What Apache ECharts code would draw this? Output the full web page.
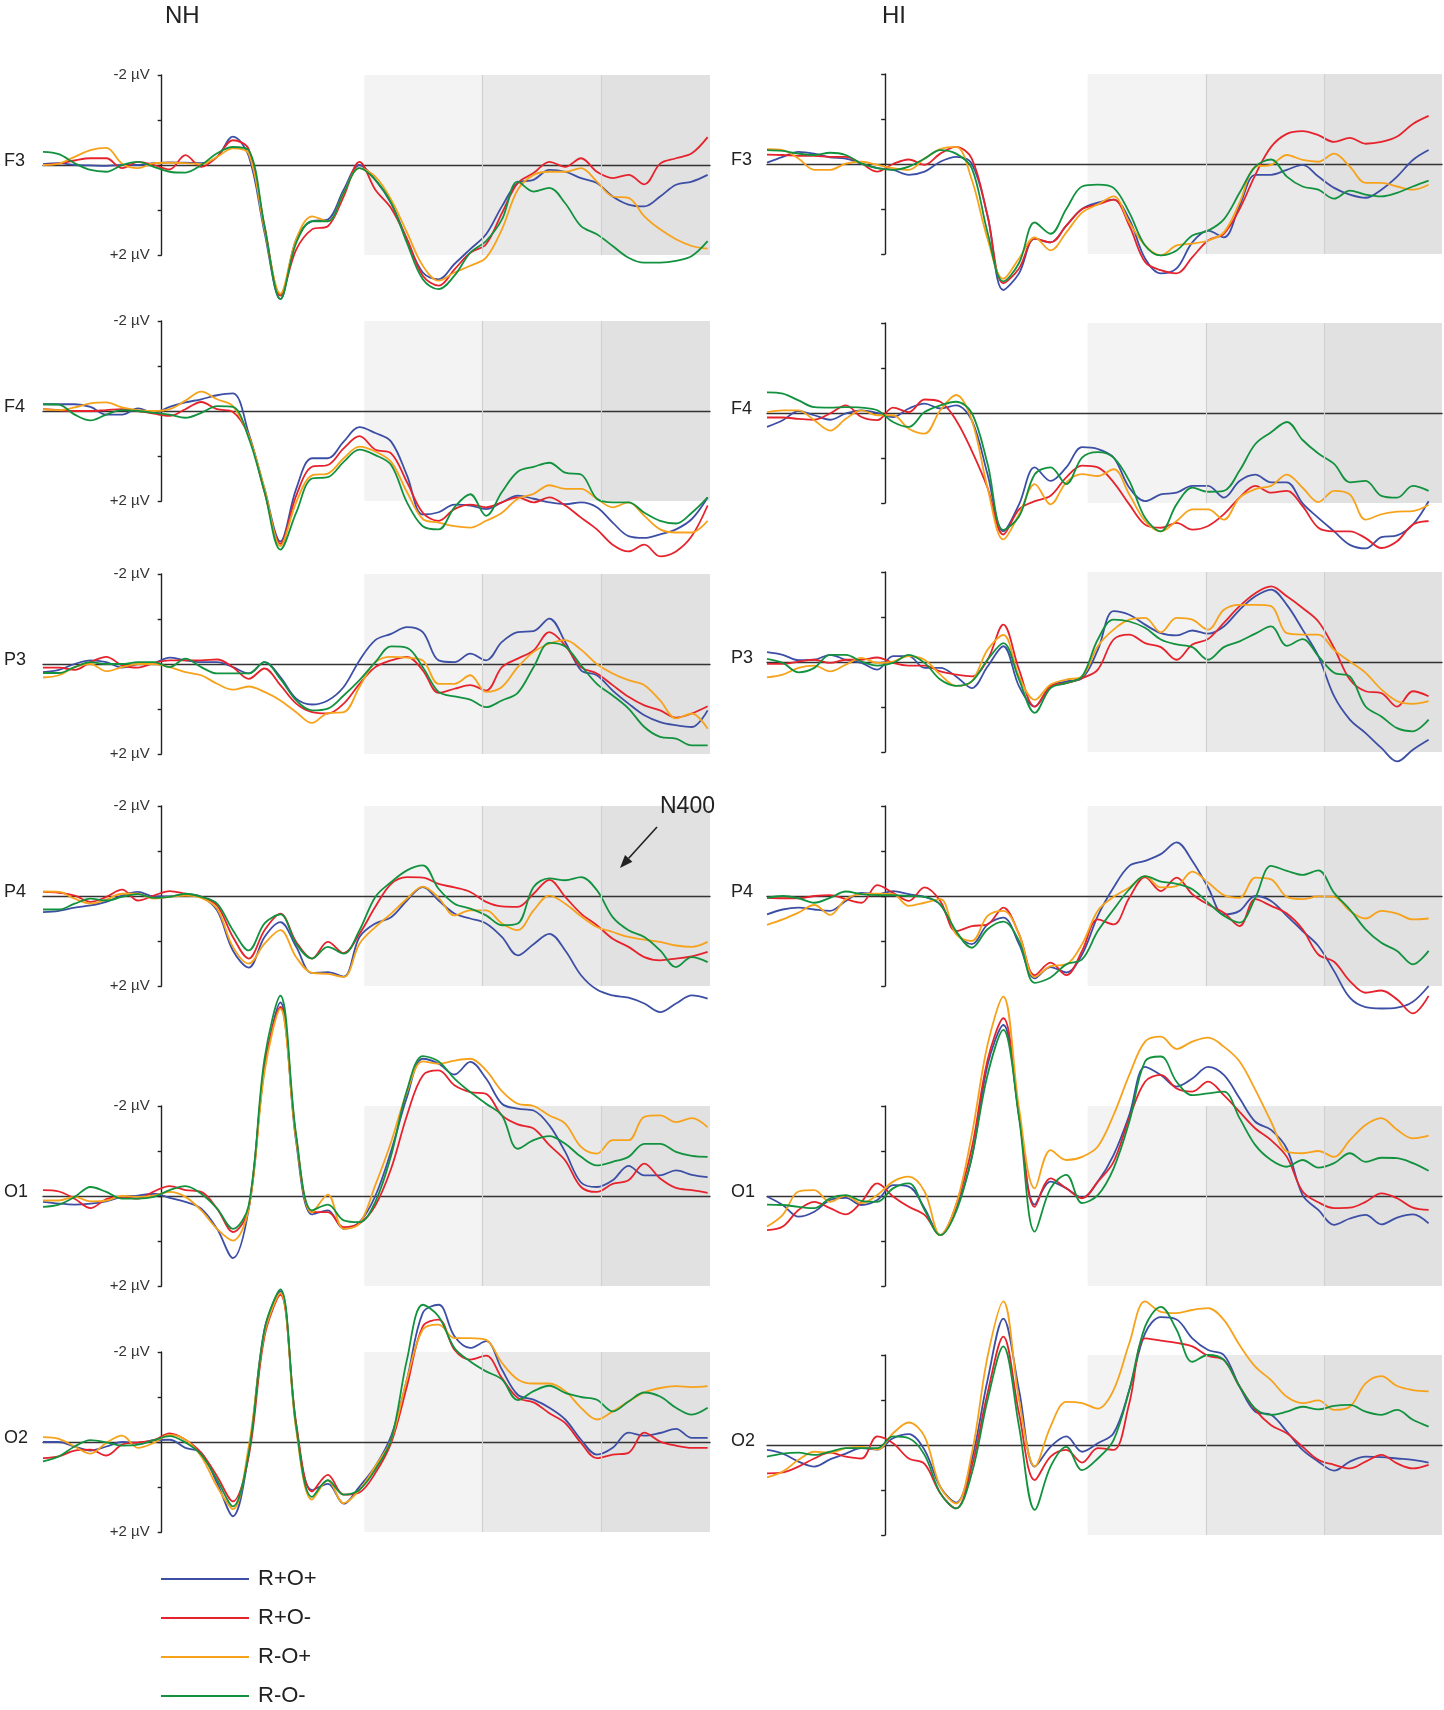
<!DOCTYPE html>
<html>
<head>
<meta charset="utf-8">
<title>ERP NH / HI</title>
<script src="https://cdn.jsdelivr.net/npm/echarts@6/dist/echarts.min.js"></script>
<style>
html, body { margin: 0; padding: 0; background: #fff; }
#chart { width: 1444px; height: 1710px; }
</style>
</head>
<body>
<div id="chart"></div>
<script>
// sample times in ms (every 20 ms)
var times = [-150,-130,-110,-90,-70,-50,-30,-10,10,30,50,70,90,110,130,150,170,190,210,230,250,270,290,310,330,350,370,390,410,430,450,470,490,510,530,550,570,590,610,630,650,670,690];

var conditions = ['R+O+', 'R+O-', 'R-O+', 'R-O-'];
var condColors = ['#3d4fa5', '#e6232c', '#f7a21b', '#12923e'];

// analysis windows (ms)
var windowsNH = [256, 405, 556, 693];
var windowsHI = [257, 408, 557, 707];

// amplitudes in µV (positive plotted downwards)
// NH
var nh_f3_RpOp = [-0.02,-0.04,0,0.01,0.02,0,0,-0.04,-0.06,-0.05,-0.04,-0.18,-0.63,-0.2,1.5,2.98,1.65,1.25,1.21,0.55,0,0.33,0.85,1.65,2.39,2.54,2.2,1.87,1.54,0.92,0.4,0.33,0.11,0.15,0.29,0.4,0.7,0.88,0.92,0.7,0.44,0.37,0.22];
var nh_f3_RpOm = [0,-0.03,-0.1,-0.15,-0.15,0.07,-0.07,0,0.1,-0.22,0.04,-0.18,-0.55,-0.35,1.36,2.9,1.88,1.43,1.36,0.7,-0.07,0.55,0.96,1.65,2.46,2.68,2.32,1.95,1.76,1.07,0.4,0.18,-0.07,0.04,-0.15,0.15,0.29,0.22,0.43,-0.03,-0.15,-0.26,-0.62];
var nh_f3_RmOp = [0,-0.03,-0.18,-0.33,-0.38,-0.03,0.07,-0.04,-0.05,-0.04,-0.02,-0.18,-0.37,-0.25,1.43,2.86,1.65,1.14,1.25,0.62,0.07,0.26,0.77,1.5,2.24,2.57,2.39,2.24,2.06,1.43,0.55,0.22,0.15,0.15,0.07,0.37,0.7,0.73,1.14,1.43,1.65,1.8,1.86];
var nh_f3_RmOm = [-0.29,-0.24,-0.04,0.11,0.15,0,-0.07,0.04,0.15,0.17,0,-0.26,-0.4,-0.33,1.36,2.98,1.73,1.25,1.25,0.62,0.07,0.33,0.84,1.73,2.54,2.76,2.46,1.95,1.69,1.21,0.37,0.59,0.51,0.85,1.36,1.54,1.8,2.06,2.17,2.17,2.13,2.02,1.69];

var nh_f4_RpOp = [-0.15,-0.15,-0.15,-0.09,0.08,0.08,-0.06,0.04,-0.09,-0.19,-0.26,-0.35,-0.39,0.5,1.73,2.9,1.73,1.05,1.05,0.68,0.36,0.49,0.68,1.43,2.3,2.25,2.08,2.1,2.18,2.03,1.88,1.95,2.03,2.07,2.03,2.14,2.48,2.78,2.82,2.74,2.63,2.4,1.92];
var nh_f4_RpOm = [-0.04,-0.02,0,0,-0.02,-0.04,0,0.06,0.11,-0.04,-0.2,-0.04,0.02,0.55,1.8,2.95,1.88,1.24,1.2,0.83,0.56,0.86,0.94,1.58,2.26,2.44,2.18,2.08,2.14,2.03,1.92,2.03,1.92,2.1,2.37,2.63,2.97,3.12,2.97,3.23,3.12,2.78,2.1];
var nh_f4_RmOp = [-0.04,-0.02,-0.08,-0.17,-0.19,-0.08,-0.02,0,-0.04,-0.23,-0.43,-0.26,-0.11,0.55,1.73,3.0,2.03,1.43,1.39,1.05,0.79,0.9,1.13,1.8,2.4,2.48,2.56,2.59,2.44,2.26,1.95,1.84,1.65,1.73,1.73,1.95,2.14,2.03,2.33,2.63,2.7,2.7,2.44];
var nh_f4_RmOm = [-0.15,-0.14,0.08,0.21,0.08,-0.02,0,0.04,0.08,0.15,0.04,-0.11,-0.09,0.6,1.8,3.08,2.26,1.5,1.47,1.13,0.86,0.98,1.2,2.03,2.56,2.63,2.14,1.85,2.33,1.8,1.35,1.24,1.15,1.37,1.41,1.95,2.03,2.03,2.26,2.44,2.5,2.26,1.92];

var nh_p3_RpOp = [0.18,0.13,0,-0.08,-0.04,0.08,0,-0.02,-0.14,-0.08,-0.04,-0.04,0.07,0.21,-0.04,0.29,0.77,0.9,0.81,0.51,-0.08,-0.53,-0.67,-0.82,-0.71,-0.08,-0.04,-0.23,-0.08,-0.49,-0.71,-0.73,-1.01,-0.49,0.14,0.25,0.59,0.88,1.14,1.29,1.36,1.4,1.03];
var nh_p3_RpOm = [0.08,0.08,0.13,-0.04,-0.16,0.03,0.08,-0.02,-0.08,-0.08,-0.08,-0.1,0.07,0.33,0.1,0.47,0.88,1.07,1.1,0.88,0.44,0.07,-0.08,-0.16,0.14,0.64,0.55,0.47,0.59,0.07,-0.12,-0.3,-0.71,-0.41,0.07,0.21,0.47,0.73,0.92,1.03,1.19,1.1,0.94];
var nh_p3_RmOp = [0.3,0.25,0.07,0,0.16,0.07,0,0,0.07,0.18,0.25,0.44,0.57,0.5,0.62,0.81,1.07,1.31,1.09,1.07,0.51,-0.04,-0.16,-0.14,-0.08,0.44,0.44,0.25,0.62,0.51,0.07,-0.27,-0.45,-0.53,-0.32,0,0.21,0.36,0.47,0.81,1.21,1.1,1.44];
var nh_p3_RmOm = [0.2,0.2,0.07,-0.04,0,0,-0.04,-0.04,0.07,-0.12,0.07,0.21,0.21,0.21,-0.04,0.33,0.81,1.03,0.99,0.7,0.36,-0.04,-0.39,-0.36,0.07,0.62,0.72,0.79,0.96,0.81,0.64,0.07,-0.47,-0.39,0.03,0.44,0.7,0.99,1.4,1.62,1.66,1.81,1.81];

var nh_p4_RpOp = [0.36,0.33,0.26,0.21,0.13,-0.01,-0.09,0.01,0.01,-0.04,0.02,0.32,1.21,1.59,0.91,0.58,1.13,1.71,1.69,1.79,0.91,0.61,0.47,0.1,-0.2,0.1,0.39,0.5,0.61,0.91,1.32,1.07,0.84,1.21,1.76,2.08,2.21,2.26,2.39,2.58,2.39,2.21,2.28];
var nh_p4_RpOm = [-0.09,-0.07,-0.01,0.13,0.02,-0.14,0.1,-0.01,-0.11,-0.05,0.02,0.21,0.91,1.39,0.76,0.39,1.02,1.39,1.02,1.27,0.84,0.24,-0.27,-0.42,-0.41,-0.27,-0.19,-0.09,0.13,0.23,0.24,-0.05,-0.36,0.02,0.39,0.65,0.95,1.13,1.36,1.43,1.39,1.34,1.24];
var nh_p4_RmOp = [-0.1,-0.09,0.06,0.17,0.08,-0.05,-0.05,0.06,0.02,-0.01,0.04,0.28,1.13,1.5,1.06,0.76,1.36,1.71,1.73,1.8,1.06,0.69,0.39,0.06,-0.21,0.04,0.43,0.32,0.32,0.61,0.76,0.32,-0.01,0.17,0.45,0.69,0.8,0.91,0.97,1.02,1.1,1.13,1.02];
var nh_p4_RmOm = [0.3,0.3,0.17,0.06,0.1,0.02,-0.04,0.04,0.02,-0.05,0.02,0.17,0.76,1.21,0.61,0.41,1.06,1.39,1.13,1.28,0.76,0.02,-0.31,-0.57,-0.68,-0.16,0.17,0.28,0.43,0.65,0.61,-0.2,-0.39,-0.35,-0.42,-0.13,0.47,0.76,0.91,1.21,1.58,1.36,1.47];

var nh_o1_RpOp = [0.13,0.17,0.19,0.17,0.12,0.02,-0.01,-0.05,0.04,0.13,0.28,0.73,1.38,0.28,-2.83,-4.3,-1.2,0.41,0.32,0.73,0.58,0,-1.0,-2.2,-3.05,-2.94,-2.7,-2.98,-2.61,-2.05,-1.94,-1.9,-1.57,-0.98,-0.3,-0.2,-0.35,-0.67,-0.46,-0.46,-0.57,-0.47,-0.42];
var nh_o1_RpOm = [-0.13,-0.1,0.06,0.27,0.07,0.02,0.06,-0.1,-0.22,-0.13,-0.09,0.28,0.8,0.28,-2.9,-4.2,-1.3,0.36,0.36,0.69,0.61,0.21,-0.61,-1.79,-2.68,-2.79,-2.46,-2.31,-2.27,-1.79,-1.59,-1.5,-1.13,-0.79,-0.2,-0.09,-0.27,-0.35,-0.72,-0.39,-0.18,-0.13,-0.07];
var nh_o1_RmOp = [0.1,0.1,0.02,0.12,0.1,0,0.02,-0.01,-0.09,0.02,0.32,0.73,0.99,0.28,-2.76,-4.16,-1.25,0.37,-0.03,0.73,0.61,-0.24,-1.2,-2.31,-2.99,-2.94,-3.01,-3.05,-2.79,-2.33,-2.05,-2.0,-1.79,-1.61,-1.09,-0.94,-1.24,-1.24,-1.76,-1.79,-1.64,-1.73,-1.53];
var nh_o1_RmOm = [0.24,0.19,0.02,-0.2,-0.09,0.06,0.06,0.02,-0.13,-0.22,-0.05,0.28,0.73,0.21,-3.05,-4.45,-1.35,0.32,0.19,0.54,0.58,0.13,-0.9,-2.35,-3.11,-2.99,-2.61,-2.31,-2.05,-1.79,-1.05,-1.24,-1.33,-1.16,-0.87,-0.68,-0.76,-0.87,-1.16,-1.16,-0.98,-0.89,-0.87];

var nh_o2_RpOp = [0,0,0.1,0.19,0.1,0,0.02,-0.04,-0.05,0.13,0.24,0.91,1.65,0.24,-2.5,-3.35,-0.35,1.07,0.93,1.37,0.99,0.54,-0.13,-1.39,-2.87,-3.05,-2.35,-2.09,-2.24,-1.61,-1.05,-0.94,-0.76,-0.5,-0.05,0.28,0.13,-0.21,-0.14,-0.2,-0.29,-0.09,-0.09];
var nh_o2_RpOm = [0.36,0.32,0.19,0.17,0.3,0.06,0.01,-0.04,-0.19,-0.05,0.24,0.76,1.32,0.32,-2.35,-3.27,-0.42,1.1,0.73,1.17,1.12,0.69,0.02,-1.24,-2.57,-2.72,-2.05,-1.83,-1.92,-1.42,-0.98,-0.88,-0.64,-0.42,0.02,0.36,0.28,0.24,-0.21,-0.01,0.08,0.13,0.13];
var nh_o2_RmOp = [-0.11,-0.07,0.1,0.26,0.02,-0.14,0.13,0.02,-0.16,-0.05,0.32,0.99,1.49,0.1,-2.42,-3.31,-0.27,1.28,0.85,1.36,1.06,0.54,-0.05,-1.39,-2.5,-2.61,-2.31,-2.31,-2.27,-1.76,-1.39,-1.3,-1.3,-1.13,-0.76,-0.5,-0.68,-0.9,-1.1,-1.2,-1.24,-1.22,-1.24];
var nh_o2_RmOm = [0.43,0.32,0.1,-0.04,0.01,0.08,0.06,-0.04,-0.13,0.01,0.28,0.84,1.43,0.24,-2.5,-3.39,-0.35,1.22,0.85,1.17,1.06,0.61,-0.05,-1.83,-3.05,-2.79,-2.09,-1.79,-1.57,-1.39,-0.93,-1.13,-1.25,-1.09,-1.0,-0.94,-0.68,-0.9,-1.1,-1.01,-0.76,-0.61,-0.76];

// HI
var hi_f3_RpOp = [-0.03,-0.16,-0.27,-0.23,-0.15,-0.12,-0.01,0.09,0.13,0.24,0.17,-0.05,-0.16,-0.01,1.15,2.8,2.43,1.66,1.74,1.37,1.0,0.86,0.79,1.23,2.1,2.43,2.32,1.74,1.48,1.63,0.93,0.24,0.24,0.13,0.02,0.28,0.53,0.68,0.75,0.57,0.28,-0.09,-0.31];
var hi_f3_RpOm = [-0.21,-0.2,-0.18,-0.18,-0.16,-0.16,-0.01,0.17,0,-0.1,0.02,-0.23,-0.38,-0.12,1.15,2.65,2.32,1.66,1.74,1.37,1.0,0.9,0.79,1.37,2.18,2.36,2.43,2.07,1.7,1.55,1.0,0.24,-0.38,-0.67,-0.73,-0.64,-0.49,-0.58,-0.45,-0.49,-0.61,-0.89,-1.07];
var hi_f3_RmOp = [-0.33,-0.31,-0.12,0.13,0.13,-0.01,-0.05,0.02,0.09,0.13,-0.12,-0.33,-0.38,0.35,1.66,2.55,2.1,1.63,1.92,1.52,1.08,0.9,0.72,1.3,1.81,2.03,1.81,1.77,1.7,1.52,0.86,0.06,0.02,-0.2,-0.09,-0.05,-0.23,0.06,0.42,0.42,0.5,0.57,0.46];
var hi_f3_RmOm = [-0.31,-0.29,-0.23,-0.2,-0.25,-0.2,-0.01,0.09,0.13,0.06,-0.12,-0.31,-0.23,0.09,1.52,2.61,2.2,1.3,1.55,1.0,0.5,0.46,0.53,1.08,1.81,2.03,1.92,1.59,1.48,1.23,0.64,0.06,-0.1,0.28,0.5,0.57,0.77,0.59,0.68,0.72,0.64,0.5,0.37];

var hi_f4_RpOp = [0.31,0.16,-0.04,0.05,0.15,0.01,-0.06,0,0.09,-0.1,-0.21,-0.1,-0.17,0.16,1.36,2.63,2.03,1.21,1.51,1.21,0.76,0.8,0.99,1.66,1.96,1.81,1.77,1.62,1.62,1.88,1.51,1.37,1.54,1.54,2.01,2.33,2.63,2.93,3.01,2.76,2.72,2.48,1.96];
var hi_f4_RpOm = [0.1,0.1,0.13,0.15,0.01,-0.17,0.09,0.16,-0.12,-0.02,-0.3,-0.25,0.16,0.84,1.66,2.7,2.14,1.96,1.84,1.43,1.17,1.21,1.54,2.03,2.48,2.55,2.44,2.59,2.51,2.25,1.88,1.62,1.77,1.73,2.07,2.55,2.63,2.63,2.78,3.0,2.85,2.48,2.4];
var hi_f4_RmOp = [-0.02,-0.06,-0.06,0.16,0.39,0.13,-0.06,0.05,0.05,0.35,0.46,-0.06,-0.4,0.16,1.66,2.81,2.25,1.58,2.03,1.54,1.36,1.4,1.25,1.81,2.4,2.63,2.4,2.14,2.14,2.37,1.88,1.69,1.62,1.37,1.66,1.98,1.73,1.81,2.37,2.25,2.19,2.18,2.04];
var hi_f4_RmOm = [-0.46,-0.43,-0.28,-0.13,-0.12,-0.13,-0.12,-0.06,0.2,0.31,-0.02,-0.17,-0.25,0,1.13,2.6,2.3,1.36,1.21,1.58,0.99,0.87,0.99,1.51,2.33,2.63,2.03,1.66,1.75,1.73,1.28,0.69,0.43,0.2,0.6,0.9,1.13,1.54,1.51,1.84,1.88,1.62,1.73];

var hi_p3_RpOp = [-0.22,-0.16,-0.04,-0.05,-0.16,-0.05,0.02,0.17,-0.13,-0.13,0.13,0.13,0.32,0.58,0.1,-0.35,0.54,0.99,0.54,0.43,0.36,-0.27,-1.13,-1.05,-0.83,-0.64,-0.59,-0.7,-0.63,-0.79,-1.16,-1.46,-1.61,-1.27,-0.72,-0.13,0.76,1.28,1.58,1.91,2.21,1.95,1.73];
var hi_p3_RpOm = [0.04,0.04,-0.01,-0.05,0.02,-0.05,-0.05,-0.1,0.02,0.08,0.08,0.21,0.28,0.32,-0.05,-0.83,0.17,0.99,0.54,0.47,0.36,0.17,-0.5,-0.61,-0.42,-0.33,-0.05,-0.39,-0.51,-0.87,-1.24,-1.53,-1.68,-1.46,-1.2,-0.9,-0.31,0.39,0.65,0.69,0.99,0.65,0.76];
var hi_p3_RmOp = [0.34,0.28,0.13,0.08,0.21,0.06,-0.09,0.02,-0.01,-0.13,-0.05,0.28,0.53,0.43,-0.27,-0.6,0.32,0.84,0.5,0.39,0.32,-0.35,-0.72,-0.94,-0.98,-0.66,-0.98,-0.94,-0.72,-1.16,-1.27,-1.27,-1.24,-0.64,-0.61,-0.61,-0.27,-0.01,0.24,0.61,0.87,0.93,0.87];
var hi_p3_RmOm = [-0.07,0.02,0.23,0.13,-0.16,-0.16,-0.01,0.08,0.02,-0.16,0.02,0.39,0.53,0.43,-0.05,-0.42,0.39,1.13,0.58,0.47,0.32,-0.5,-0.94,-0.9,-0.76,-0.5,-0.39,-0.33,-0.05,-0.33,-0.46,-0.63,-0.79,-0.36,-0.51,-0.13,0.24,0.32,0.99,1.21,1.47,1.54,1.28];

var hi_p4_RpOp = [0.41,0.3,0.26,0.3,0.33,0.11,-0.07,-0.04,-0.11,-0.04,0.02,0.19,0.81,1.07,0.63,0.48,1.07,1.83,1.58,1.7,1.3,0.44,-0.19,-0.67,-0.78,-0.93,-1.19,-0.78,-0.19,0.41,0.33,0,0.11,0.44,0.78,1.11,1.67,2.26,2.47,2.5,2.48,2.35,2.0];
var hi_p4_RpOm = [0.04,0.05,0.05,0,-0.02,0.07,0.15,-0.24,-0.07,0.11,-0.19,0.11,0.78,0.67,0.63,0.26,0.85,1.76,1.48,1.76,1.22,0.52,0.63,0.04,-0.42,-0.11,-0.41,-0.04,0.19,0.37,0.67,0.07,0.22,0.39,0.74,1.3,1.46,1.89,2.15,2.1,2.3,2.61,2.22];
var hi_p4_RmOp = [0.64,0.52,0.37,0.2,0.42,0.07,-0.04,-0.05,-0.04,0.22,0.15,0.07,0.85,1.0,0.44,0.33,0.85,1.8,1.56,1.52,1.07,0.33,0.02,-0.19,-0.44,-0.19,-0.22,-0.54,-0.3,-0.02,0.04,-0.41,-0.37,0.02,0.07,0.01,0.02,0.33,0.5,0.33,0.39,0.52,0.5];
var hi_p4_RmOm = [0.04,0,0.05,0.15,0.04,-0.1,-0.04,-0.02,-0.02,0,0.02,0.19,0.78,1.15,0.74,0.57,1.0,1.93,1.81,1.52,1.41,0.78,0.3,-0.15,-0.44,-0.32,-0.27,-0.15,0.15,0.44,0.59,0.04,-0.67,-0.56,-0.47,-0.57,-0.07,0.3,0.74,1.04,1.22,1.52,1.22];

var hi_o1_RpOp = [0.01,0.2,0.46,0.35,0.09,0.04,0.2,0.09,-0.24,-0.21,0.27,0.87,0.27,-0.85,-2.91,-3.8,-1.8,0.19,-0.32,-0.17,0.04,-0.32,-0.91,-1.8,-2.87,-2.69,-2.43,-2.61,-2.87,-2.69,-2.17,-1.65,-1.47,-1.05,-0.02,0.31,0.64,0.5,0.42,0.63,0.48,0.41,0.61];
var hi_o1_RpOm = [0.76,0.68,0.31,0.13,0.27,0.41,0.13,-0.28,0.01,0.24,0.42,0.87,0.2,-1.06,-3.02,-3.95,-1.8,0.24,-0.39,-0.17,0.05,-0.32,-0.76,-1.73,-2.54,-2.69,-2.39,-2.32,-2.54,-2.24,-1.87,-1.5,-1.24,-0.87,-0.1,0.14,0.27,0.26,0.13,-0.06,0.05,0.26,0.31];
var hi_o1_RmOp = [0.68,0.42,-0.1,-0.13,0.13,-0.01,0.16,-0.02,-0.32,-0.43,-0.1,0.87,0.2,-1.36,-3.36,-4.43,-1.95,-0.17,-1.02,-0.8,-0.87,-1.1,-1.8,-2.69,-3.43,-3.54,-3.27,-3.43,-3.52,-3.32,-2.99,-2.36,-1.65,-0.99,-0.95,-1.0,-0.87,-1.24,-1.58,-1.73,-1.47,-1.28,-1.34];
var hi_o1_RmOm = [0.19,0.2,0.24,0.27,0.05,-0.02,0.11,0.13,-0.17,-0.28,0.31,0.87,0.35,-0.87,-2.69,-3.69,-1.73,0.79,-0.17,-0.47,0.16,-0.02,-0.61,-1.65,-2.99,-3.1,-2.54,-2.24,-2.28,-2.32,-1.73,-1.13,-0.8,-0.65,-0.8,-0.63,-0.73,-0.95,-0.76,-0.85,-0.84,-0.73,-0.56];

var hi_o2_RpOp = [0.11,0.19,0.37,0.48,0.32,0.19,0.07,0.1,-0.15,-0.24,0.11,0.93,1.28,0.33,-1.44,-2.81,-1.22,0.48,0.04,-0.19,0.15,-0.04,-0.26,-1.22,-2.48,-2.84,-2.79,-2.37,-2.11,-2.0,-1.3,-0.74,-0.67,-0.3,0.11,0.37,0.57,0.37,0.26,0.27,0.3,0.33,0.39];
var hi_o2_RpOm = [0.63,0.61,0.48,0.3,0.17,0.26,0.3,-0.19,-0.04,0.3,0.42,1.07,1.41,0.48,-1.15,-2.41,-0.7,0.78,0.26,0.11,0.39,0.07,0.11,-0.93,-2.37,-2.32,-2.27,-2.19,-1.98,-1.89,-1.3,-0.78,-0.44,-0.26,0.04,0.33,0.44,0.52,0.37,0.22,0.41,0.52,0.44];
var hi_o2_RmOp = [0.72,0.59,0.33,0.15,0.17,0.07,0.04,0.1,-0.26,-0.5,-0.19,0.93,1.3,0.19,-1.96,-3.19,-1.0,0.48,-0.41,-0.96,-0.93,-0.81,-1.22,-2.26,-3.19,-2.96,-2.93,-3.0,-3.04,-2.78,-2.22,-1.74,-1.44,-1.07,-0.93,-0.99,-0.78,-0.85,-1.37,-1.53,-1.31,-1.22,-1.19];
var hi_o2_RmOm = [0.26,0.19,0.17,0.22,0.15,0.07,0.07,0.07,-0.19,-0.15,0.22,1.07,1.41,0.63,-1.0,-2.19,-0.41,1.44,0.48,0.04,0.56,0.3,-0.11,-1.22,-2.63,-3.07,-2.56,-1.85,-2.0,-1.89,-1.3,-0.81,-0.67,-0.74,-0.85,-0.79,-0.87,-0.89,-0.74,-0.67,-0.78,-0.56,-0.41];

// layout of the two columns (pixels)
var columns = {
    NH: {left: 43, width: 667, max: 693, win: windowsNH, labelX: 4, tickLabels: true},
    HI: {left: 767, width: 675, max: 707, win: windowsHI, labelX: 731, tickLabels: false}
};

// one panel per channel and group; zero = pixel row of the 0 µV line
var panels = [
    {col: 'NH', ch: 'F3', zero: 165,  data: [nh_f3_RpOp, nh_f3_RpOm, nh_f3_RmOp, nh_f3_RmOm]},
    {col: 'NH', ch: 'F4', zero: 411,  data: [nh_f4_RpOp, nh_f4_RpOm, nh_f4_RmOp, nh_f4_RmOm]},
    {col: 'NH', ch: 'P3', zero: 664,  data: [nh_p3_RpOp, nh_p3_RpOm, nh_p3_RmOp, nh_p3_RmOm]},
    {col: 'NH', ch: 'P4', zero: 896,  data: [nh_p4_RpOp, nh_p4_RpOm, nh_p4_RmOp, nh_p4_RmOm]},
    {col: 'NH', ch: 'O1', zero: 1196, data: [nh_o1_RpOp, nh_o1_RpOm, nh_o1_RmOp, nh_o1_RmOm]},
    {col: 'NH', ch: 'O2', zero: 1442, data: [nh_o2_RpOp, nh_o2_RpOm, nh_o2_RmOp, nh_o2_RmOm]},
    {col: 'HI', ch: 'F3', zero: 164,  data: [hi_f3_RpOp, hi_f3_RpOm, hi_f3_RmOp, hi_f3_RmOm]},
    {col: 'HI', ch: 'F4', zero: 413,  data: [hi_f4_RpOp, hi_f4_RpOm, hi_f4_RmOp, hi_f4_RmOm]},
    {col: 'HI', ch: 'P3', zero: 662,  data: [hi_p3_RpOp, hi_p3_RpOm, hi_p3_RmOp, hi_p3_RmOm]},
    {col: 'HI', ch: 'P4', zero: 896,  data: [hi_p4_RpOp, hi_p4_RpOm, hi_p4_RmOp, hi_p4_RmOm]},
    {col: 'HI', ch: 'O1', zero: 1196, data: [hi_o1_RpOp, hi_o1_RpOm, hi_o1_RmOp, hi_o1_RmOm]},
    {col: 'HI', ch: 'O2', zero: 1445, data: [hi_o2_RpOp, hi_o2_RpOm, hi_o2_RmOp, hi_o2_RmOm]}
];

var FONT = '"Liberation Sans", Arial, Helvetica, sans-serif';
var shadeColors = ['#f3f3f3', '#e9e9e9', '#e1e1e1'];

var grids = [], xAxes = [], yAxes = [], series = [], graphics = [];

panels.forEach(function (p, i) {
    var c = columns[p.col];
    var top = p.zero - 90;
    grids.push({left: c.left, top: top, width: c.width, height: 180});

    xAxes.push({
        type: 'value', gridIndex: i, min: -150, max: c.max, z: 2,
        axisLine: {show: true, onZero: true, lineStyle: {color: '#333', width: 1.4}},
        axisTick: {show: false}, axisLabel: {show: false}, splitLine: {show: false}
    });

    yAxes.push({
        type: 'value', gridIndex: i, inverse: true, min: -2, max: 2, interval: 1, z: 2,
        axisLine: {show: true, onZero: true, lineStyle: {color: '#222', width: 1.4}},
        axisTick: {show: true, length: 4, lineStyle: {color: '#222', width: 1.4}},
        axisLabel: {show: false},
        splitLine: {show: false}
    });

    // shaded analysis windows
    var w = c.win;
    series.push({
        type: 'line', xAxisIndex: i, yAxisIndex: i, data: [], z: 1, silent: true,
        markArea: {
            silent: true,
            data: [
                [{xAxis: w[0], itemStyle: {color: shadeColors[0]}}, {xAxis: w[1]}],
                [{xAxis: w[1], itemStyle: {color: shadeColors[1]}}, {xAxis: w[2]}],
                [{xAxis: w[2], itemStyle: {color: shadeColors[2]}}, {xAxis: w[3]}]
            ]
        },
        markLine: {
            silent: true, symbol: 'none', label: {show: false},
            lineStyle: {color: '#d0d0d0', width: 1.2, type: 'solid'},
            data: [{xAxis: w[1]}, {xAxis: w[2]}]
        }
    });

    p.data.forEach(function (vals, k) {
        series.push({
            name: conditions[k], type: 'line', xAxisIndex: i, yAxisIndex: i,
            data: times.map(function (t, j) { return [t, vals[j]]; }),
            smooth: 0.35, symbol: 'none', showSymbol: false, clip: false, z: 3,
            color: condColors[k],
            lineStyle: {color: condColors[k], width: 1.8}
        });
    });

    // channel name
    graphics.push({
        type: 'text', left: c.labelX, top: p.zero - 13, z: 100,
        style: {text: p.ch, fill: '#222', font: '18px ' + FONT}
    });

    // µV labels next to the y axis (axis sits at t = 0)
    if (c.tickLabels) {
        var axisX = c.left + c.width * 150 / (c.max + 150);
        [['-2 µV', top], ['+2 µV', top + 180]].forEach(function (lb) {
            graphics.push({
                type: 'text', x: axisX - 12, y: lb[1], z: 100,
                style: {text: lb[0], fill: '#333', font: '15px ' + FONT,
                        align: 'right', verticalAlign: 'middle',
                        textAlign: 'right', textVerticalAlign: 'middle'}
            });
        });
    }
});

// column titles
graphics.push({type: 'text', left: 165, top: 4, z: 100, style: {text: 'NH', fill: '#222', font: '24px ' + FONT}});
graphics.push({type: 'text', left: 882, top: 4, z: 100, style: {text: 'HI', fill: '#222', font: '24px ' + FONT}});

// N400 annotation with arrow
graphics.push({type: 'text', left: 660, top: 795, z: 100, style: {text: 'N400', fill: '#222', font: '23px ' + FONT}});
graphics.push({type: 'line', z: 100, shape: {x1: 657, y1: 827, x2: 628.7, y2: 858.3}, style: {stroke: '#222', lineWidth: 1.6}});
graphics.push({type: 'polygon', z: 100, shape: {points: [[620, 868], [632.4, 861.7], [625.0, 854.9]]}, style: {fill: '#222'}});

var chart = echarts.init(document.getElementById('chart'));
chart.setOption({
    animation: false,
    backgroundColor: '#fff',
    textStyle: {fontFamily: FONT},
    grid: grids,
    xAxis: xAxes,
    yAxis: yAxes,
    legend: {
        data: conditions, orient: 'vertical', left: 161, top: 1568, padding: 0,
        icon: 'rect', itemWidth: 88, itemHeight: 2, itemGap: 17,
        textStyle: {fontSize: 22, color: '#222', fontFamily: FONT, lineHeight: 22, padding: [0, 0, 0, 4]}
    },
    graphic: graphics,
    series: series
});
</script>
</body>
</html>
